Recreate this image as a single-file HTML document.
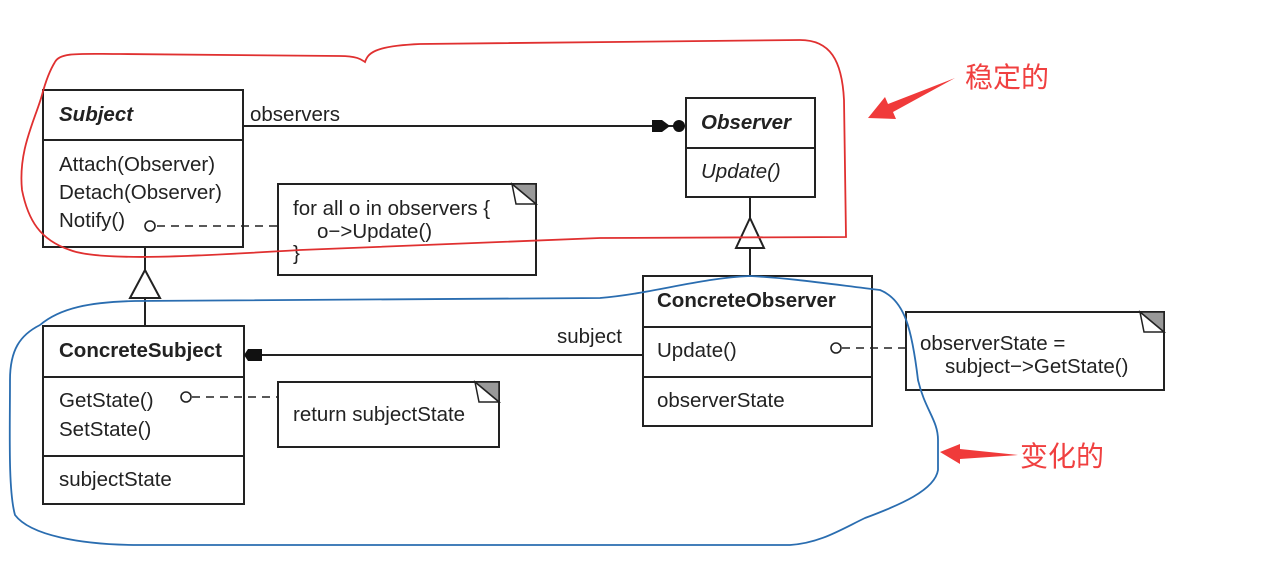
<!DOCTYPE html>
<html><head><meta charset="utf-8"><style>
body{margin:0;background:#fff;width:1269px;height:575px;overflow:hidden}
svg text{font-family:"Liberation Sans",Arial,sans-serif;font-size:20.5px;fill:#222}
.cn{font-family:"Liberation Sans","Noto Sans CJK SC",sans-serif;font-size:28px;fill:#f04040}
</style></head><body>
<svg width="1269" height="575" viewBox="0 0 1269 575" xmlns="http://www.w3.org/2000/svg">
<g stroke="#222" stroke-width="2" fill="none">
<rect x="43" y="90" width="200" height="157" fill="#fff"/>
<line x1="43" y1="140" x2="243" y2="140"/>
<rect x="686" y="98" width="129" height="99" fill="#fff"/>
<line x1="686" y1="148" x2="815" y2="148"/>
<rect x="278" y="184" width="258" height="91" fill="#fff"/>
<rect x="43" y="326" width="201" height="178" fill="#fff"/>
<line x1="43" y1="377" x2="244" y2="377"/>
<line x1="43" y1="456" x2="244" y2="456"/>
<rect x="278" y="382" width="221" height="65" fill="#fff"/>
<rect x="643" y="276" width="229" height="150" fill="#fff"/>
<line x1="643" y1="327" x2="872" y2="327"/>
<line x1="643" y1="377" x2="872" y2="377"/>
<rect x="906" y="312" width="258" height="78" fill="#fff"/>
<line x1="243" y1="126" x2="684" y2="126"/>
<line x1="252" y1="355" x2="643" y2="355"/>
<line x1="145" y1="247" x2="145" y2="270"/>
<line x1="145" y1="298" x2="145" y2="326"/>
<polygon points="145,270 130,298 160,298" fill="#fff"/>
<line x1="750" y1="197" x2="750" y2="218"/>
<line x1="750" y1="248" x2="750" y2="276"/>
<polygon points="750,218 736,248 764,248" fill="#fff"/>
<g stroke-dasharray="8,6" stroke-width="1.6">
<line x1="157" y1="226" x2="278" y2="226"/>
<line x1="192" y1="397" x2="278" y2="397"/>
<line x1="842" y1="348" x2="906" y2="348"/>
</g>
<circle cx="150" cy="226" r="5" fill="#fff" stroke-width="1.6"/>
<circle cx="186" cy="397" r="5" fill="#fff" stroke-width="1.6"/>
<circle cx="836" cy="348" r="5" fill="#fff" stroke-width="1.6"/>
</g>
<g stroke="#222" stroke-width="1.5">
<polygon points="512,184 536,184 536,204" fill="#999"/>
<polygon points="512,184 536,204 516,204" fill="#fff"/>
<polygon points="475,382 499,382 499,402" fill="#999"/>
<polygon points="475,382 499,402 479,402" fill="#fff"/>
<polygon points="1140,312 1164,312 1164,332" fill="#999"/>
<polygon points="1140,312 1164,332 1144,332" fill="#fff"/>
</g>
<polygon points="652,120 662,120 670,126 662,132 652,132" fill="#111"/>
<circle cx="679" cy="126" r="6" fill="#111"/>
<polygon points="248,349 262,349 262,361 248,361 244,355" fill="#111"/>
<text x="59" y="121" font-weight="bold" font-style="italic">Subject</text>
<text x="250" y="121">observers</text>
<text x="59" y="171">Attach(Observer)</text>
<text x="59" y="199">Detach(Observer)</text>
<text x="59" y="227">Notify()</text>
<text x="293" y="215">for all o in observers {</text>
<text x="317" y="238">o−&gt;Update()</text>
<text x="293" y="260">}</text>
<text x="701" y="129" font-weight="bold" font-style="italic">Observer</text>
<text x="701" y="178" font-style="italic">Update()</text>
<text x="657" y="307" font-weight="bold">ConcreteObserver</text>
<text x="657" y="357">Update()</text>
<text x="657" y="407">observerState</text>
<text x="557" y="343">subject</text>
<text x="920" y="350">observerState =</text>
<text x="945" y="373">subject−&gt;GetState()</text>
<text x="59" y="357" font-weight="bold">ConcreteSubject</text>
<text x="59" y="407">GetState()</text>
<text x="59" y="436">SetState()</text>
<text x="59" y="486">subjectState</text>
<text x="293" y="421">return subjectState</text>
<path d="M55,62 C60,52 80,54 120,54 L340,56 C358,56 362,60 365,62 C368,54 372,46 420,44 L800,40 C830,40 842,60 844,100 L846,237 L600,238 L300,250 C200,256 100,262 70,250 C40,240 28,220 22,190 C18,150 35,120 42,95 C46,80 50,70 55,62" fill="none" stroke="#e03030" stroke-width="1.8"/>
<path d="M40,325 C60,308 90,302 135,301 L600,298 C650,294 700,278 750,276 C790,278 830,284 880,290 C905,300 912,330 918,380 C925,410 938,420 938,440 L938,470 C935,490 900,505 865,518 C840,530 820,543 790,545 L140,545 C80,545 30,535 15,515 C8,490 10,430 10,380 C10,350 20,335 40,325" fill="none" stroke="#2a6db0" stroke-width="1.8"/>
<polygon points="868,118 885,97 888,104 955,78 893,112 896,119" fill="#f03a3a"/>
<polygon points="940,452 960,444 960,449 1018,455 960,459 960,464" fill="#f03a3a"/>
<text x="965" y="87" class="cn">稳定的</text>
<text x="1020" y="466" class="cn">变化的</text>
</svg>
</body></html>
